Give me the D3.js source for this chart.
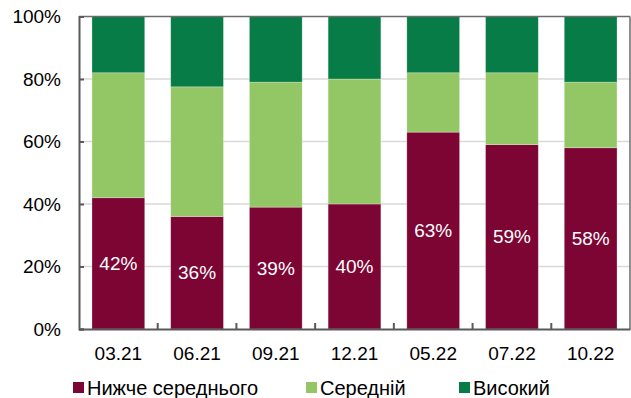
<!DOCTYPE html>
<html>
<head>
<meta charset="utf-8">
<script src="https://cdn.jsdelivr.net/npm/d3@7"></script>
<style>
  html, body { margin: 0; padding: 0; background: #fff; }
  svg { display: block; font-family: "Liberation Sans", Arial, sans-serif; }
</style>
</head>
<body>
<svg id="chart" width="631" height="398"></svg>
<script>
// Survey periods
const periods = ["03.21", "06.21", "09.21", "12.21", "05.22", "07.22", "10.22"];
// Share of respondents by level, %
const below = [42, 36, 39, 40, 63, 59, 58];
const middle = [40, 41.5, 40, 40, 19, 23, 21];
const high = [18, 22.5, 21, 20, 18, 18, 21];
const seriesNames = ["Нижче середнього", "Середній", "Високий"];
const yTicks = [0, 20, 40, 60, 80, 100];

const colors = ["#7c0533", "#93c766", "#077c46"];

const svg = d3.select("#chart");
const W = 631, H = 398;
const m = { top: 16.5, right: 1, bottom: 69, left: 79 };
const iw = W - m.left - m.right, ih = H - m.top - m.bottom;

const rows = periods.map((p, i) => ({ period: p, below: below[i], middle: middle[i], high: high[i] }));
const stack = d3.stack().keys(["below", "middle", "high"])(rows);

const x = d3.scaleBand().domain(periods).range([0, iw]).paddingInner(0.33).paddingOuter(0.165);
const y = d3.scaleLinear().domain([0, 100]).range([ih, 0]);

const g = svg.append("g").attr("transform", `translate(${m.left},${m.top})`);

// Horizontal gridlines
g.append("g").selectAll("line").data(yTicks.slice(1, -1)).join("line")
  .attr("x1", 0).attr("x2", iw)
  .attr("y1", d => y(d)).attr("y2", d => y(d))
  .attr("stroke", "#d9d9d9").attr("stroke-width", 1.5);

// Stacked bars
g.append("g").selectAll("g").data(stack).join("g")
  .attr("fill", (d, i) => colors[i])
  .selectAll("rect").data(d => d).join("rect")
  .attr("x", d => x(d.data.period))
  .attr("width", x.bandwidth())
  .attr("y", d => y(d[1]))
  .attr("height", d => y(d[0]) - y(d[1]))
  .attr("stroke", "rgba(255,255,255,0.35)").attr("stroke-width", 0.75);

// Value labels inside the bottom segment
g.append("g").selectAll("text").data(stack[0]).join("text")
  .attr("x", d => x(d.data.period) + x.bandwidth() / 2)
  .attr("y", d => (y(d[0]) + y(d[1])) / 2)
  .attr("dy", "0.35em")
  .attr("text-anchor", "middle")
  .attr("fill", "#fff")
  .attr("font-size", 19)
  .text(d => d.data.below + "%");

// Frame: top and right borders
g.append("line").attr("x1", 0).attr("x2", iw).attr("y1", 0).attr("y2", 0)
  .attr("stroke", "#6b6b6b").attr("stroke-width", 1.5);
g.append("line").attr("x1", iw).attr("x2", iw).attr("y1", 0).attr("y2", ih)
  .attr("stroke", "#6b6b6b").attr("stroke-width", 1.5);

// Y axis
const yAxis = g.append("g").call(d3.axisLeft(y).tickValues(yTicks).tickSize(-5).tickPadding(18).tickFormat(d => d + "%"));
yAxis.select(".domain").attr("stroke", "#595959").attr("stroke-width", 2);
yAxis.selectAll(".tick line").attr("stroke", "#595959").attr("stroke-width", 2);
yAxis.selectAll("text").attr("font-size", 19).attr("fill", "#000")
  .attr("font-family", "Liberation Sans, Arial, sans-serif");

// X axis: labels centred under bars, ticks at category boundaries
const xAxis = g.append("g").attr("transform", `translate(0,${ih})`)
  .call(d3.axisBottom(x).tickSize(0).tickPadding(18));
xAxis.select(".domain").attr("stroke", "#595959").attr("stroke-width", 2);
xAxis.selectAll("text").attr("font-size", 19).attr("fill", "#000")
  .attr("font-family", "Liberation Sans, Arial, sans-serif");
const step = x.step();
g.append("g").selectAll("line").data(periods.slice(1)).join("line")
  .attr("x1", d => x(d) - x.paddingOuter() * step).attr("x2", d => x(d) - x.paddingOuter() * step)
  .attr("y1", ih).attr("y2", ih - 6)
  .attr("stroke", "#595959").attr("stroke-width", 2);

// Legend
const legendX = [73, 306, 459];
const legend = svg.append("g").selectAll("g").data(seriesNames).join("g")
  .attr("transform", (d, i) => `translate(${legendX[i]},382)`);
legend.append("rect").attr("width", 11).attr("height", 11).attr("fill", (d, i) => colors[i]);
legend.append("text").attr("x", 14).attr("y", 12.5)
  .attr("font-size", 20).attr("fill", "#000").text(d => d);
</script>
</body>
</html>
